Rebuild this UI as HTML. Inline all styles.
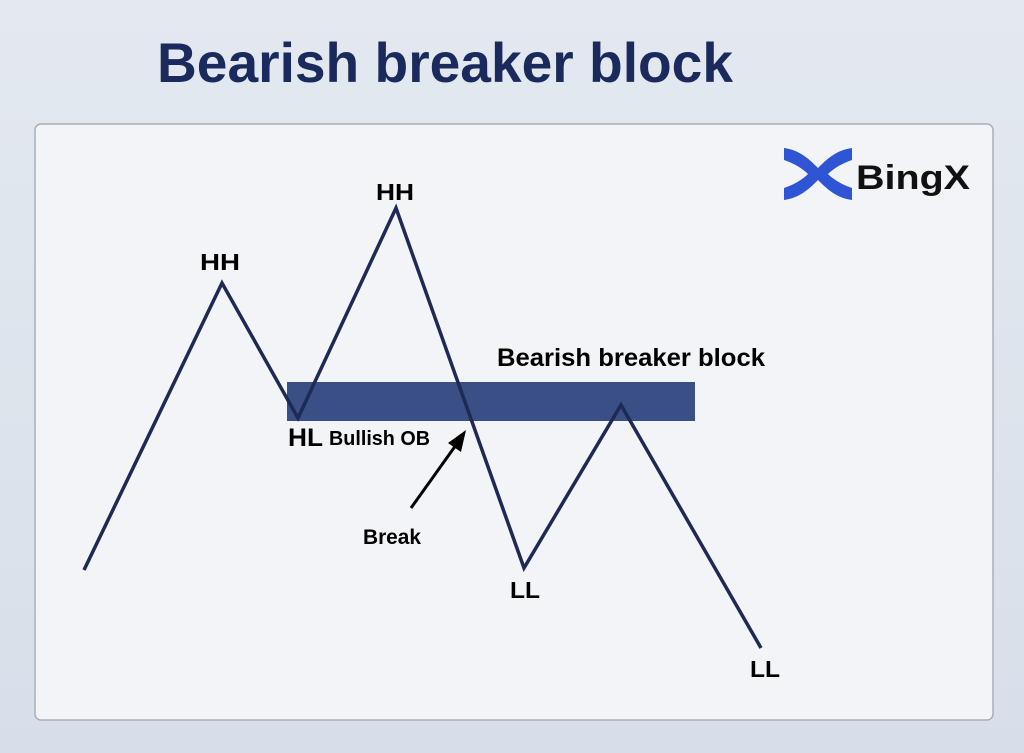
<!DOCTYPE html>
<html><head><style>
html,body{margin:0;padding:0;width:1024px;height:753px;overflow:hidden;background:linear-gradient(180deg,#e4e9f0,#d6dfe9);}
svg{display:block}
</style></head><body>
<svg width="1024" height="753" xmlns="http://www.w3.org/2000/svg" font-family="Liberation Sans, sans-serif">
<text x="157" y="82" font-size="56" font-weight="bold" fill="#1b2a5c" textLength="576" lengthAdjust="spacingAndGlyphs">Bearish breaker block</text>
<rect x="35" y="124" width="958" height="596" rx="6" fill="#f3f4f7" stroke="#a9afb9" stroke-width="1.5"/>
<rect x="287" y="382" width="408" height="39" fill="#3a4f85"/>
<polyline points="84,570 222,283 298,418 396,208 524,568 621,405 761,648" fill="none" stroke="#1e2a55" stroke-width="3.5" stroke-linejoin="miter"/>
<line x1="411" y1="508" x2="456" y2="445" stroke="#000" stroke-width="3"/>
<polygon points="466,430 448,443 461,452" fill="#000"/>
<g font-weight="bold" fill="#000">
<text x="200" y="270" font-size="23" textLength="40" lengthAdjust="spacingAndGlyphs">HH</text>
<text x="376" y="200" font-size="23" textLength="38" lengthAdjust="spacingAndGlyphs">HH</text>
<text x="288" y="446" font-size="25" textLength="35" lengthAdjust="spacingAndGlyphs">HL</text>
<text x="329" y="445" font-size="20" textLength="101" lengthAdjust="spacingAndGlyphs">Bullish OB</text>
<text x="363" y="544" font-size="21" textLength="58" lengthAdjust="spacingAndGlyphs">Break</text>
<text x="497" y="366" font-size="25" textLength="268" lengthAdjust="spacingAndGlyphs">Bearish breaker block</text>
<text x="510" y="598" font-size="23" textLength="30" lengthAdjust="spacingAndGlyphs">LL</text>
<text x="750" y="677" font-size="23" textLength="30" lengthAdjust="spacingAndGlyphs">LL</text>
<text x="856" y="189" font-size="34" fill="#111" textLength="114" lengthAdjust="spacingAndGlyphs">BingX</text>
</g>
<g fill="#2f55d4">
<path d="M784,148 C800,150 810,160 818,168 C826,160 836,150 852,148 L852,160 C840,164 832,170 828,174 C832,178 840,184 852,188 L852,200 C836,198 826,188 818,180 C810,188 800,198 784,200 L784,188 C796,184 804,178 808,174 C804,170 796,164 784,160 Z"/>
</g>
</svg>
</body></html>
